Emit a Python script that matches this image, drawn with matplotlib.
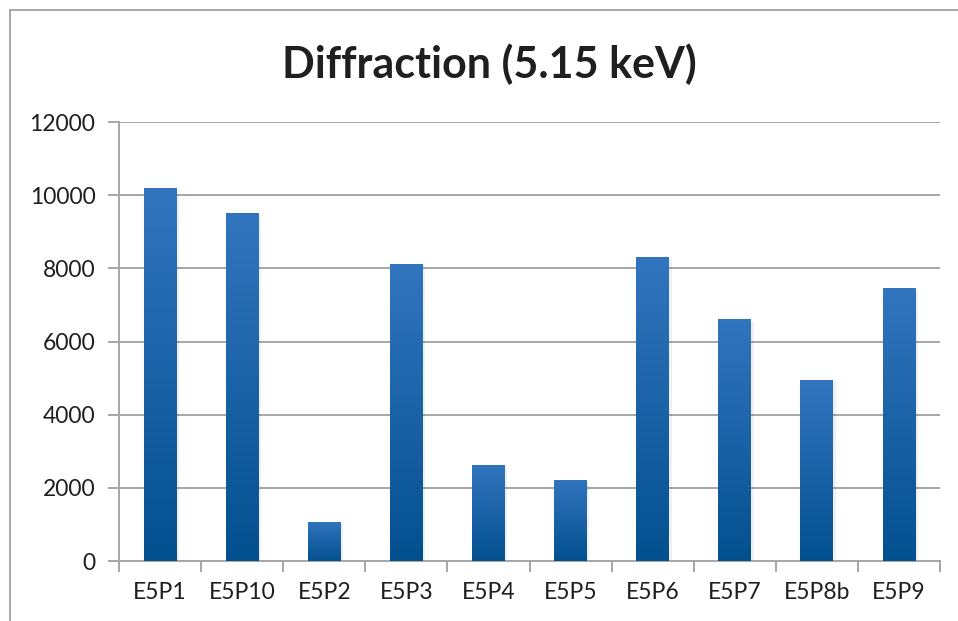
import matplotlib.pyplot as plt
import numpy as np
from matplotlib.colors import LinearSegmentedColormap
from matplotlib.patches import Rectangle

# data
samples = ["E5P1", "E5P10", "E5P2", "E5P3", "E5P4", "E5P5", "E5P6", "E5P7", "E5P8b", "E5P9"]
counts = [10200, 9520, 1070, 8130, 2630, 2220, 8310, 6620, 4950, 7470]
y_ticks = [0, 2000, 4000, 6000, 8000, 10000, 12000]

plt.rcParams['font.family'] = ['Lato', 'DejaVu Sans']
text_col = "#1f1f1f"
grid_col = "#a6a6a6"

fig = plt.figure(figsize=(9.58, 6.21), dpi=100)
W, H = 958, 621
ax = fig.add_axes([119 / W, 1 - 561 / H, (940 - 119) / W, (561 - 122) / H])

# chart frame (cropped at right and bottom in the original)
fig.patches.append(Rectangle((10 / W, -0.1), 1.2, 1 - 10 / H + 0.1, transform=fig.transFigure,
                             fill=False, edgecolor="#a0a0a0", linewidth=1.3))

x = np.arange(len(samples))
bars = ax.bar(x, counts, width=0.4, color="none", zorder=3)

# Excel-style vertical gradient in each bar
cmap = LinearSegmentedColormap.from_list("bar", ["#03508f", "#3275bf"])
grad = np.linspace(0, 1, 256).reshape(-1, 1)
for b in bars:
    x0, w, h = b.get_x(), b.get_width(), b.get_height()
    # soft shadow
    ax.add_patch(Rectangle((x0 + 0.015, 0), w + 0.015, h - 60, facecolor="#000000",
                           alpha=0.06, linewidth=0, zorder=2))
    im = ax.imshow(grad, cmap=cmap, aspect="auto", origin="lower",
                   extent=(x0, x0 + w, 0, h), zorder=3)
    im.set_clip_path(b)

ax.set_xlim(-0.5, len(samples) - 0.5)
ax.set_ylim(0, 12000)
ax.set_yticks(y_ticks)
ax.set_yticklabels([str(v) for v in y_ticks], fontsize=16.5, color=text_col)
ax.set_xticks(x)
ax.set_xticklabels(samples, fontsize=16.5, color=text_col)
ax.set_xticks(np.arange(len(samples) + 1) - 0.5, minor=True)

ax.grid(axis="y", color=grid_col, linewidth=1.4, zorder=0)
ax.set_axisbelow(True)
for s in ["top", "right"]:
    ax.spines[s].set_visible(False)
for s in ["left", "bottom"]:
    ax.spines[s].set_color(grid_col)
    ax.spines[s].set_linewidth(1.4)

ax.tick_params(axis="y", length=8, width=1.4, color=grid_col, pad=9)
ax.tick_params(axis="x", which="major", length=0, pad=15)
ax.tick_params(axis="x", which="minor", length=8, width=1.4, color=grid_col)

fig.text(489 / W, 1 - 64 / H, "Diffraction (5.15 keV)", ha="center", va="center",
         fontsize=31, fontweight="bold", color=text_col)

fig.savefig("out.png", dpi=100)
